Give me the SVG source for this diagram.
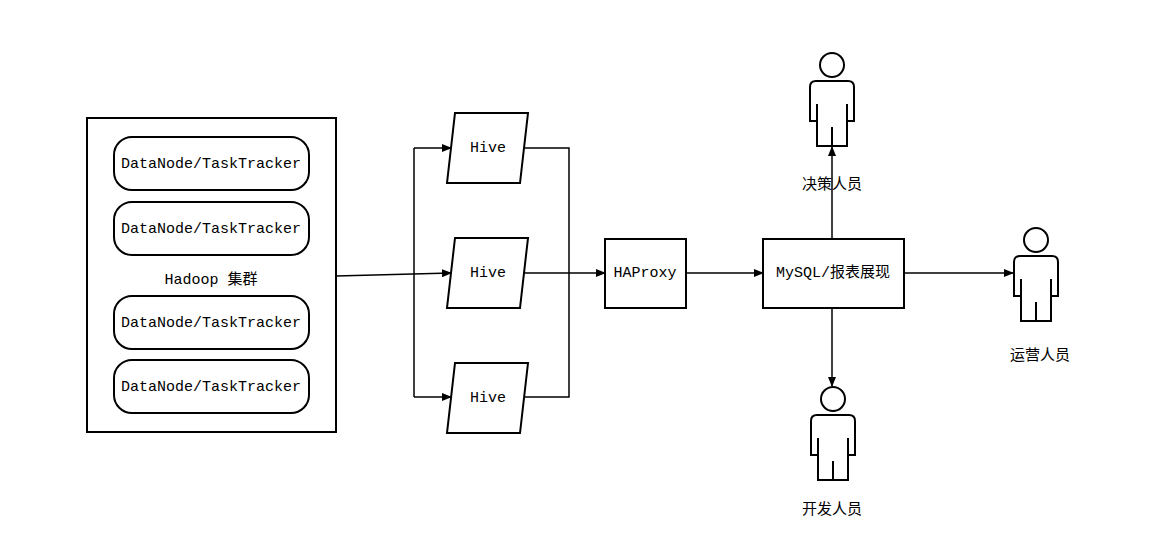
<svg xmlns="http://www.w3.org/2000/svg" width="1159" height="549" viewBox="0 0 1159 549">
<style>
.s{fill:#fff;stroke:#000;stroke-width:2}
.t{font-family:"Liberation Mono","Noto Sans CJK SC",monospace;font-size:15px;fill:#000;text-anchor:middle;dominant-baseline:central}
.c{fill:none;stroke:#000;stroke-width:1.5}
.p{fill:none;stroke:#000;stroke-width:2}
</style>
<defs>
<marker id="a" markerWidth="10" markerHeight="8" refX="9" refY="4" orient="auto" markerUnits="userSpaceOnUse"><path d="M0,0 L10,4 L0,8 Z" fill="#000"/></marker>
<g id="person" class="p"><circle cx="0" cy="0" r="12" fill="#fff"/><path d="M-22,56 V22 Q-22,16 -16,16 H16 Q22,16 22,22 V56 H15 V81 H-15 V56 H-22 Z" fill="#fff"/><path d="M-15,39 V56 M15,39 V56 M0,62 V81"/></g>
</defs>
<rect width="1159" height="549" fill="#fff"/>
<g id="connectors">
<path class="c" d="M336,276 L451,273" marker-end="url(#a)"/>
<path class="c" d="M414,148 V397"/>
<path class="c" d="M414,148 H451" marker-end="url(#a)"/>
<path class="c" d="M414,397 H451" marker-end="url(#a)"/>
<path class="c" d="M524,148 H569 V397 H524"/>
<path class="c" d="M524,273 H605" marker-end="url(#a)"/>
<path class="c" d="M686,273 H763" marker-end="url(#a)"/>
<path class="c" d="M832,239 V147" marker-end="url(#a)"/>
<path class="c" d="M832,308 V386" marker-end="url(#a)"/>
<path class="c" d="M904,273 H1013" marker-end="url(#a)"/>
</g>
<g id="hadoop">
<rect class="s" x="87" y="118" width="249" height="314"/>
<text class="t" x="211" y="280">Hadoop 集群</text>
</g>
<g id="dn1"><rect class="s" x="114" y="137" width="195" height="53" rx="18"/><text class="t" x="211" y="164">DataNode/TaskTracker</text></g>
<g id="dn2"><rect class="s" x="114" y="202" width="195" height="53" rx="18"/><text class="t" x="211" y="229">DataNode/TaskTracker</text></g>
<g id="dn3"><rect class="s" x="114" y="296" width="195" height="53" rx="18"/><text class="t" x="211" y="323">DataNode/TaskTracker</text></g>
<g id="dn4"><rect class="s" x="114" y="360" width="195" height="53" rx="18"/><text class="t" x="211" y="387">DataNode/TaskTracker</text></g>
<g id="hive1"><path class="s" d="M455,113 H528 L520,183 H447 Z"/><text class="t" x="488" y="148">Hive</text></g>
<g id="hive2"><path class="s" d="M455,238 H528 L520,308 H447 Z"/><text class="t" x="488" y="273">Hive</text></g>
<g id="hive3"><path class="s" d="M455,363 H528 L520,433 H447 Z"/><text class="t" x="488" y="398">Hive</text></g>
<g id="haproxy"><rect class="s" x="605" y="239" width="81" height="69"/><text class="t" x="645" y="273">HAProxy</text></g>
<g id="mysql"><rect class="s" x="763" y="239" width="141" height="69"/><text class="t" x="833" y="273">MySQL/报表展现</text></g>
<g id="p1"><use href="#person" x="832" y="65"/><text class="t" x="832" y="185">决策人员</text></g>
<g id="p2"><use href="#person" x="1036" y="240"/><text class="t" x="1040" y="356">运营人员</text></g>
<g id="p3"><use href="#person" x="833" y="399"/><text class="t" x="832" y="510">开发人员</text></g>
</svg>
